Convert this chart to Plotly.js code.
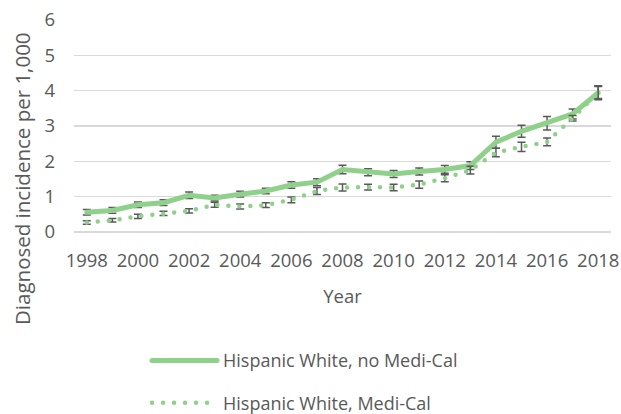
<!DOCTYPE html>
<html>
<head>
<meta charset="utf-8">
<script src="https://cdn.plot.ly/plotly-3.0.1.min.js"></script>
<style>
html, body { margin: 0; padding: 0; background: #fff; }
#chart { width: 621px; height: 414px; }
.js-line { stroke-linecap: round; }
</style>
</head>
<body>
<div id="chart"></div>
<script>
// ---- data ----
const years = [1998, 1999, 2000, 2001, 2002, 2003, 2004, 2005, 2006, 2007, 2008,
               2009, 2010, 2011, 2012, 2013, 2014, 2015, 2016, 2017, 2018];
const noMediCal = [0.56, 0.61, 0.77, 0.83, 1.04, 0.96, 1.07, 1.16, 1.33, 1.41, 1.77,
                   1.69, 1.64, 1.71, 1.77, 1.88, 2.54, 2.85, 3.08, 3.34, 3.94];
const noMediCalErr = [0.08, 0.08, 0.08, 0.08, 0.09, 0.08, 0.08, 0.08, 0.09, 0.10, 0.12,
                      0.10, 0.10, 0.10, 0.11, 0.11, 0.17, 0.17, 0.19, 0.14, 0.20];
const mediCal = [0.27, 0.33, 0.44, 0.53, 0.60, 0.77, 0.72, 0.76, 0.91, 1.16, 1.26,
                 1.27, 1.26, 1.34, 1.52, 1.75, 2.25, 2.41, 2.55, 3.22, 3.95];
const mediCalErr = [0.05, 0.05, 0.06, 0.06, 0.06, 0.07, 0.07, 0.07, 0.08, 0.10, 0.10,
                    0.08, 0.09, 0.10, 0.10, 0.11, 0.12, 0.13, 0.11, 0.08, 0.17];
const seriesNames = ['Hispanic White, no Medi-Cal', 'Hispanic White, Medi-Cal'];
const yTitle = 'Diagnosed incidence per 1,000';
const xTitle = 'Year';

const green = '#8fd18a';
const errColor = '#595959';
const textColor = '#595959';
const fontFam = '"Open Sans", "Liberation Sans", sans-serif';

const traces = [
  {
    x: years, y: noMediCal, name: seriesNames[0], type: 'scatter', mode: 'lines',
    legendgroup: 'a',
    line: { color: green, width: 5 },
    error_y: { type: 'data', array: noMediCalErr, visible: true, color: errColor, thickness: 1.5, width: 4 }
  },
  {
    x: years, y: mediCal, name: seriesNames[1], type: 'scatter', mode: 'lines',
    legendgroup: 'b',
    line: { color: green, width: 4.5, dash: '0px,11px' },
    error_y: { type: 'data', array: mediCalErr, visible: true, color: errColor, thickness: 1.5, width: 4 }
  }
];

const layout = {
  width: 621, height: 414,
  margin: { l: 74, r: 10, t: 20, b: 182, autoexpand: false },
  paper_bgcolor: '#ffffff', plot_bgcolor: '#ffffff',
  font: { family: fontFam, size: 18, color: textColor },
  showlegend: true,
  legend: {
    x: 0.136, xanchor: 'left', y: -0.52, yanchor: 'top',
    orientation: 'v', tracegroupgap: 16, itemwidth: 66,
    font: { family: fontFam, size: 18, color: textColor },
    bgcolor: 'rgba(0,0,0,0)'
  },
  xaxis: {
    range: [1997.5, 2018.5], tick0: 1998, dtick: 2, tickformat: 'd',
    showgrid: false, zeroline: false, showline: false, ticks: '',
    ticklabelstandoff: 15,
    tickfont: { family: fontFam, size: 18.5, color: textColor },
    title: { text: xTitle, standoff: 19, font: { family: fontFam, size: 18.5, color: textColor } },
    fixedrange: true
  },
  yaxis: {
    range: [0, 6], dtick: 1, showgrid: true, gridcolor: '#d9d9d9', gridwidth: 1.3,
    zeroline: true, zerolinecolor: '#d9d9d9', zerolinewidth: 1.3,
    showline: false, ticks: '', ticklabelstandoff: 18,
    tickfont: { family: fontFam, size: 18.5, color: textColor },
    fixedrange: true
  },
  annotations: [
    {
      text: yTitle, xref: 'paper', yref: 'paper', x: -0.0968, y: 0.25,
      xanchor: 'center', yanchor: 'middle', textangle: -90, showarrow: false,
      font: { family: fontFam, size: 20.5, color: textColor }
    }
  ]
};

Plotly.newPlot('chart', traces, layout, { displayModeBar: false, staticPlot: true }).then(function (gd) {
  // lengthen legend sample lines to match the reference
  gd.querySelectorAll('.legend .legendlines path').forEach(function (p) {
    p.setAttribute('d', 'M5,0h65');
  });
});
</script>
</body>
</html>
